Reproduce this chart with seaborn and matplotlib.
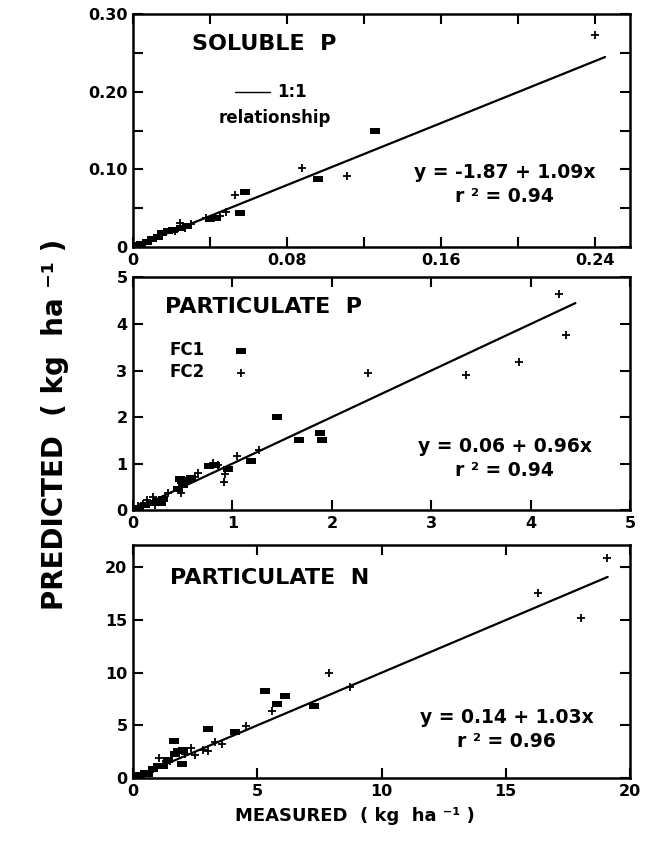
import matplotlib
matplotlib.use("Agg")
import matplotlib.pyplot as plt
import seaborn as sns
import pandas as pd
from matplotlib.ticker import FixedLocator

sns.set_style("ticks")
plt.rcParams['font.family'] = ['DejaVu Sans']
plt.rcParams['font.weight'] = 'bold'
plt.rcParams['text.color'] = 'black'
plt.rcParams['axes.edgecolor'] = 'black'
plt.rcParams['xtick.color'] = 'black'
plt.rcParams['ytick.color'] = 'black'

# Soluble P (kg/ha)
sol_fc1_x = [0.1257, 0.0959, 0.0582, 0.0556, 0.043, 0.040, 0.028, 0.025, 0.021, 0.018, 0.015, 0.013, 0.010, 0.007, 0.004, 0.002]
sol_fc1_y = [0.149, 0.0875, 0.0715, 0.0435, 0.038, 0.036, 0.027, 0.024, 0.022, 0.021, 0.018, 0.013, 0.011, 0.007, 0.004, 0.002]
sol_fc2_x = [0.240, 0.0876, 0.111, 0.053, 0.0483, 0.045, 0.038, 0.0244, 0.030, 0.027, 0.022, 0.017, 0.012, 0.008, 0.005, 0.003]
sol_fc2_y = [0.273, 0.1017, 0.091, 0.067, 0.0448, 0.040, 0.037, 0.0315, 0.030, 0.025, 0.021, 0.019, 0.012, 0.009, 0.004, 0.003]

# Particulate P
pp_fc1_x = [1.445, 1.67, 1.88, 1.905, 1.19, 0.96, 0.82, 0.76, 0.55, 0.47, 0.50, 0.45, 0.58, 0.30, 0.25, 0.18, 0.12, 0.06, 0.28, 0.03]
pp_fc1_y = [2.00, 1.50, 1.66, 1.50, 1.06, 0.88, 0.98, 0.95, 0.64, 0.66, 0.55, 0.45, 0.70, 0.25, 0.20, 0.15, 0.10, 0.05, 0.15, 0.02]
pp_fc2_x = [4.29, 4.36, 3.88, 3.35, 2.36, 1.27, 1.05, 0.925, 0.92, 0.85, 0.65, 0.48, 0.35, 0.62, 0.48, 0.20, 0.14, 0.10, 0.05, 0.22, 0.80]
pp_fc2_y = [4.65, 3.76, 3.18, 2.91, 2.95, 1.29, 1.17, 0.77, 0.60, 0.97, 0.79, 0.36, 0.36, 0.72, 0.58, 0.28, 0.22, 0.14, 0.08, 0.12, 1.02]

# Particulate N
pn_fc1_x = [5.31, 6.12, 5.78, 7.28, 3.02, 4.09, 1.64, 1.97, 1.8, 1.7, 2.0, 1.4, 1.0, 0.8, 0.5, 0.3, 0.15, 1.2, 0.6]
pn_fc1_y = [8.24, 7.77, 7.05, 6.82, 4.69, 4.37, 3.49, 1.29, 2.6, 2.3, 2.7, 1.7, 1.1, 0.9, 0.5, 0.3, 0.15, 1.1, 0.4]
pn_fc2_x = [19.06, 16.28, 18.03, 7.89, 8.73, 5.58, 4.55, 3.57, 1.03, 2.33, 2.1, 2.48, 3.0, 3.3, 2.8, 1.5, 0.7, 0.4, 0.2, 1.2]
pn_fc2_y = [20.9, 17.6, 15.15, 9.97, 8.6, 6.4, 4.9, 3.27, 1.92, 2.83, 2.3, 2.17, 2.6, 3.4, 2.7, 1.6, 0.6, 0.3, 0.1, 1.3]

titles = ['SOLUBLE  P', 'PARTICULATE  P', 'PARTICULATE  N']
equations = ['y = -1.87 + 1.09x', 'y = 0.06 + 0.96x', 'y = 0.14 + 1.03x']
r2_text = ['r \u00b2 = 0.94', 'r \u00b2 = 0.94', 'r \u00b2 = 0.96']
line_end = [0.245, 4.45, 19.1]
xlims = [0.258, 5, 20]
ylims = [0.30, 5, 22.1]
xticks_major = [[0, 0.08, 0.16, 0.24], [0, 1, 2, 3, 4, 5], [0, 5, 10, 15, 20]]
xtick_labels = [['0', '0.08', '0.16', '0.24'], ['0', '1', '2', '3', '4', '5'], ['0', '5', '10', '15', '20']]
xticks_minor = [[0.04, 0.12, 0.20], [], []]
yticks_major = [[0, 0.10, 0.20, 0.30], [0, 1, 2, 3, 4, 5], [0, 5, 10, 15, 20]]
ytick_labels = [['0', '0.10', '0.20', '0.30'], ['0', '1', '2', '3', '4', '5'], ['0', '5', '10', '15', '20']]
yticks_minor = [[0.05, 0.15, 0.25], [], []]

data = [
    (sol_fc1_x, sol_fc1_y, sol_fc2_x, sol_fc2_y),
    (pp_fc1_x, pp_fc1_y, pp_fc2_x, pp_fc2_y),
    (pn_fc1_x, pn_fc1_y, pn_fc2_x, pn_fc2_y),
]

rect = [(-1, -0.6), (1, -0.6), (1, 0.6), (-1, 0.6), (-1, -0.6)]

fig = plt.figure(figsize=(6.54, 8.46), dpi=100)
bottoms = [0.708, 0.397, 0.0804]
axes = [fig.add_axes([0.2034, b, 0.760, 0.275]) for b in bottoms]

title_pos = [(0.119, 0.871), (0.064, 0.873), (0.074, 0.858)]
eq_pos = [(0.748, 0.319, 0.216), (0.748, 0.272, 0.172), (0.752, 0.258, 0.155)]

for i, ax in enumerate(axes):
    x1, y1, x2, y2 = data[i]
    df1 = pd.DataFrame({'measured': x1, 'predicted': y1})
    df2 = pd.DataFrame({'measured': x2, 'predicted': y2})
    sns.lineplot(x=[0, line_end[i]], y=[0, line_end[i]], color='black', lw=1.6, ax=ax)
    sns.scatterplot(data=df1, x='measured', y='predicted', marker=rect, s=55,
                    color='black', edgecolor='black', linewidth=0, ax=ax, label='FC1')
    sns.scatterplot(data=df2, x='measured', y='predicted', marker='+', s=30,
                    color='black', linewidth=1.3, ax=ax, label='FC2')
    ax.set_xlim(0, xlims[i])
    ax.set_ylim(0, ylims[i])
    ax.set_xlabel('')
    ax.set_ylabel('')
    ax.set_xticks(xticks_major[i])
    ax.set_xticklabels(xtick_labels[i])
    ax.set_yticks(yticks_major[i])
    ax.set_yticklabels(ytick_labels[i])
    ax.xaxis.set_minor_locator(FixedLocator(xticks_minor[i]))
    ax.yaxis.set_minor_locator(FixedLocator(yticks_minor[i]))
    ax.tick_params(which='both', direction='in', length=7, width=1.5,
                   top=True, right=True, labelsize=11.5, pad=4, colors='black')
    for lab in ax.get_xticklabels() + ax.get_yticklabels():
        lab.set_fontweight('bold')
    for sp in ax.spines.values():
        sp.set_linewidth(1.8)
        sp.set_color('black')
        sp.set_visible(True)
    ax.text(title_pos[i][0], title_pos[i][1], titles[i], transform=ax.transAxes,
            fontsize=16, fontweight='bold', ha='left', va='center')
    ax.text(eq_pos[i][0], eq_pos[i][1], equations[i], transform=ax.transAxes,
            fontsize=13.5, fontweight='bold', ha='center', va='center')
    ax.text(eq_pos[i][0], eq_pos[i][2], r2_text[i], transform=ax.transAxes,
            fontsize=13.5, fontweight='bold', ha='center', va='center')
    if i == 1:
        leg = ax.legend(loc='upper left', bbox_to_anchor=(0.06, 0.755), frameon=False,
                        markerfirst=False, fontsize=12, handletextpad=1.6,
                        labelspacing=0.25, handlelength=1.2, borderaxespad=0)
        for t in leg.get_texts():
            t.set_fontweight('bold')
            t.set_color('black')
    else:
        ax.get_legend().remove()

# 1:1 key in first panel
ax0 = axes[0]
ax0.plot([0.205, 0.276], [0.668, 0.668], color='black', lw=1, transform=ax0.transAxes)
ax0.text(0.29, 0.668, '1:1', transform=ax0.transAxes, fontsize=12, fontweight='bold',
         ha='left', va='center')
ax0.text(0.286, 0.556, 'relationship', transform=ax0.transAxes, fontsize=12,
         fontweight='bold', ha='center', va='center')

fig.text(0.084, 0.498, 'PREDICTED  ( kg  ha \u207b\u00b9 )', rotation=90, fontsize=20,
         fontweight='bold', ha='center', va='center')
fig.text(0.543, 0.036, 'MEASURED  ( kg  ha \u207b\u00b9 )', fontsize=13,
         fontweight='bold', ha='center', va='center')

fig.savefig('out.png', dpi=100)
